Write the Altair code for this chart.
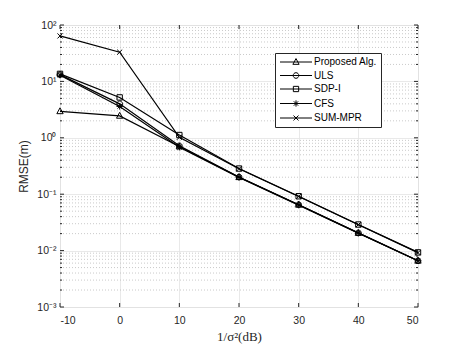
import altair as alt
import pandas as pd

# ---------------- data ----------------
x_vals = [-10, 0, 10, 20, 30, 40, 50]
series_names = ["Proposed Alg.", "ULS", "SDP-I", "CFS", "SUM-MPR"]
proposed = [2.95, 2.45, 0.70, 0.200, 0.065, 0.0205, 0.0066]
uls = [13.2, 4.0, 0.72, 0.202, 0.0652, 0.0206, 0.0066]
sdp_i = [13.6, 5.2, 1.12, 0.285, 0.092, 0.029, 0.0093]
cfs = [12.9, 3.6, 0.68, 0.199, 0.064, 0.0204, 0.0066]
sum_mpr = [64.0, 33.0, 1.02, 0.283, 0.091, 0.0288, 0.0092]
x_ticks = [-10, 0, 10, 20, 30, 40, 50]
y_decades = [1e-3, 1e-2, 1e-1, 1.0, 10.0, 100.0]
exponent_labels = {2: "10²", 1: "10¹", 0: "10⁰", -1: "10⁻¹", -2: "10⁻²", -3: "10⁻³"}
minor_vals = [m * 10.0 ** k for k in range(-3, 2) for m in range(2, 10)]

W, H = 358, 282
AX = "#262626"
FONT = "Liberation Sans"

values = [proposed, uls, sdp_i, cfs, sum_mpr]
rows = []
for name, ys in zip(series_names, values):
    for xv, yv in zip(x_vals, ys):
        rows.append({"series": name, "x": xv, "y": yv})
df = pd.DataFrame(rows)

# marker path builders (unit coords scaled by sqrt(size)/2)
def tri(cx, s):
    return f"M{cx},{-1.1*s}L{cx+s},{0.75*s}L{cx-s},{0.75*s}Z"

def circ(cx, s):
    r = 0.9 * s
    return (f"M{cx+r},0A{r},{r},0,1,1,{cx-r},0A{r},{r},0,1,1,{cx+r},0Z")

def sq(cx, s):
    a = 0.85 * s
    return f"M{cx-a},{-a}L{cx+a},{-a}L{cx+a},{a}L{cx-a},{a}Z"

def star(cx, s):
    d = 0.7 * s
    return (f"M{cx-s},0L{cx+s},0M{cx},{-s}L{cx},{s}"
            f"M{cx-d},{-d}L{cx+d},{d}M{cx-d},{d}L{cx+d},{-d}")

def xmark(cx, s):
    d = 0.8 * s
    return f"M{cx-d},{-d}L{cx+d},{d}M{cx-d},{d}L{cx+d},{-d}"

builders = [tri, circ, sq, star, xmark]
marker_paths = [b(0, 1.0) for b in builders]
legend_paths = ["M-1,0L7,0" + b(3, 0.78) for b in builders]

xscale = alt.Scale(domain=[-10, 50], nice=False, zero=False)
yscale = alt.Scale(type="log", domain=[1e-3, 100], nice=False)

def exp_expr():
    e = "round(log(datum.value)/LN10)"
    expr = "''"
    for k, lab in exponent_labels.items():
        expr = f"({e}=={k}?'{lab}':{expr})"
    return expr

x_axis = alt.Axis(values=x_ticks, title="1/σ²(dB)", grid=True, gridColor="#e3e3e3",
                  gridWidth=0.8, ticks=False, domain=False, labelPadding=8,
                  labelFont=FONT, labelFontSize=10.5, labelColor=AX,
                  labelExpr="replace(datum.label, '−', '-')",
                  titleFont="Liberation Serif", titleFontSize=13, titleFontWeight="normal",
                  titleColor=AX, titleY=29, titleBaseline="middle")
y_axis = alt.Axis(values=y_decades, labelExpr=exp_expr(), title="RMSE(m)", grid=True,
                  gridColor="#e3e3e3", gridWidth=0.8, ticks=False, domain=False,
                  labelPadding=4, labelFont=FONT, labelFontSize=10.5, labelColor=AX,
                  titleFont=FONT, titleFontSize=12, titleFontWeight="normal",
                  titleColor=AX, titleX=-37, titleY=H / 2, titleAngle=270,
                  titleAlign="center", titleBaseline="middle")

def X(field):
    return alt.X(field, scale=xscale, axis=x_axis)

def Y(field):
    return alt.Y(field, scale=yscale, axis=y_axis)

minor_df = pd.DataFrame({"v": minor_vals})
major_df = pd.DataFrame({"v": y_decades})
xt_df = pd.DataFrame({"t": x_ticks})

minor_grid = alt.Chart(minor_df).mark_rule(color="#bdbdbd", strokeDash=[1, 2], strokeWidth=0.8).encode(
    y=Y("v:Q"), x=alt.value(0), x2=alt.value(W))

def yticks(data, x0, x1):
    return alt.Chart(data).mark_rule(color=AX, strokeWidth=1).encode(
        y=Y("v:Q"), x=alt.value(x0), x2=alt.value(x1))

def xticks(y0, y1):
    return alt.Chart(xt_df).mark_rule(color=AX, strokeWidth=1).encode(
        x=X("t:Q"), y=alt.value(y0), y2=alt.value(y1))

ticks = [yticks(minor_df, 0, 2), yticks(minor_df, W - 2, W),
         yticks(major_df, 0, 4), yticks(major_df, W - 4, W),
         xticks(H, H - 4), xticks(0, 4)]

lines = alt.Chart(df).mark_line(color="black", strokeWidth=1.2).encode(
    x=X("x:Q"), y=Y("y:Q"), detail="series:N")

points = alt.Chart(df).mark_point(filled=False, color="black", strokeWidth=1, size=40, opacity=1).encode(
    x=X("x:Q"), y=Y("y:Q"),
    shape=alt.Shape("series:N", scale=alt.Scale(domain=series_names, range=marker_paths), legend=None))

legend_layer = alt.Chart(df).mark_point(filled=False, color="black", opacity=0, size=64).encode(
    x=X("x:Q"), y=Y("y:Q"),
    shape=alt.Shape("series:N", scale=alt.Scale(domain=series_names, range=legend_paths),
                    legend=alt.Legend(title=None, orient="none", legendX=215, legendY=28,
                                      symbolSize=64, symbolOpacity=1, symbolStrokeWidth=1,
                                      symbolStrokeColor="black", symbolFillColor="transparent",
                                      labelFont=FONT, labelFontSize=10, labelColor="black",
                                      labelOffset=25, rowPadding=3.5, padding=4,
                                      strokeColor=AX, fillColor="white", cornerRadius=0)))

chart = alt.layer(minor_grid, *ticks, lines, points, legend_layer).resolve_scale(
    shape="independent").properties(
    width=W, height=H,
    autosize=alt.AutoSizeParams(type="none"),
    padding={"left": 52, "top": 17, "right": 36, "bottom": 38},
).configure_view(stroke=AX, strokeWidth=1).configure(background="white")

chart.save("out.html", embed_options={"renderer": "svg", "actions": False})
